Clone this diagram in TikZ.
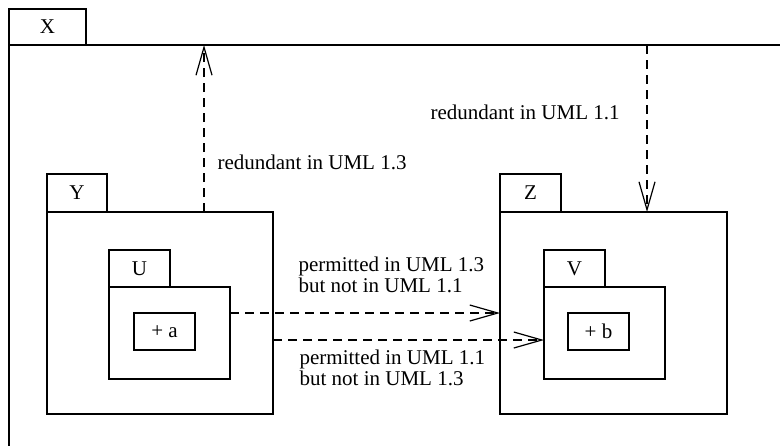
\documentclass[tikz,border=0pt]{standalone}
\usepackage{fontspec}
\setmainfont{Liberation Serif}
\usetikzlibrary{arrows.meta}
\begin{document}
\begin{tikzpicture}[x=1pt,y=-1pt, line width=1.2pt,
  box/.style={draw, inner sep=0pt, outer sep=0pt, anchor=north west, font=\fontsize{21}{21}\selectfont},
  lbl/.style={inner sep=0pt, anchor=base west, align=left, font=\fontsize{21}{20.6}\selectfont},
  dep/.style={draw, dash pattern=on 9pt off 6pt, -{Straight Barb[length=28pt,width=16pt]}}]
\useasboundingbox (0,0) rectangle (780,445);
% package X (frame)
\node[box, minimum width=77pt, minimum height=36pt] (Xtab) at (9,9) {X};
\draw (Xtab.south west) -- (786,45);
\draw (Xtab.south west) -- (9,452);
% package Y
\node[box, minimum width=60pt, minimum height=38pt] (Ytab) at (47,174) {Y};
\node[box, minimum width=226pt, minimum height=202pt] (Ybody) at (47,212) {};
\node[box, minimum width=61pt, minimum height=37pt] (Utab) at (109,250) {U};
\node[box, minimum width=121pt, minimum height=92pt] (Ubody) at (109,287) {};
\node[box, minimum width=61pt, minimum height=37pt] (a) at (134,313) {+ a};
% package Z
\node[box, minimum width=61pt, minimum height=38pt] (Ztab) at (500,174) {Z};
\node[box, minimum width=227pt, minimum height=202pt] (Zbody) at (500,212) {};
\node[box, minimum width=61pt, minimum height=37pt] (Vtab) at (544,250) {V};
\node[box, minimum width=121pt, minimum height=92pt] (Vbody) at (544,287) {};
\node[box, minimum width=61pt, minimum height=37pt] (b) at (568,313) {+ b};
% dependencies
\coordinate (up1) at (204,45);
\coordinate (dn1) at (647,45);
\coordinate (lv2) at (0,340);
\draw[dep] (Ybody.north -| up1) -- (up1);
\draw[dep] (dn1) -- (Zbody.north -| dn1);
\draw[dep] (Ubody.east |- Ybody.east) -- (Zbody.west);
\draw[dep] (Ybody.east |- lv2) -- (Vbody.west |- lv2);
% labels
\node[lbl] (r13) at (217,169) {redundant in UML 1.3};
\node[lbl] (r11) at (430,119) {redundant in UML 1.1};
\node[lbl] (p13) at (298,292) {permitted in UML 1.3\\but not in UML 1.1};
\node[lbl] (p11) at (299,385) {permitted in UML 1.1\\but not in UML 1.3};
\end{tikzpicture}
\end{document}
